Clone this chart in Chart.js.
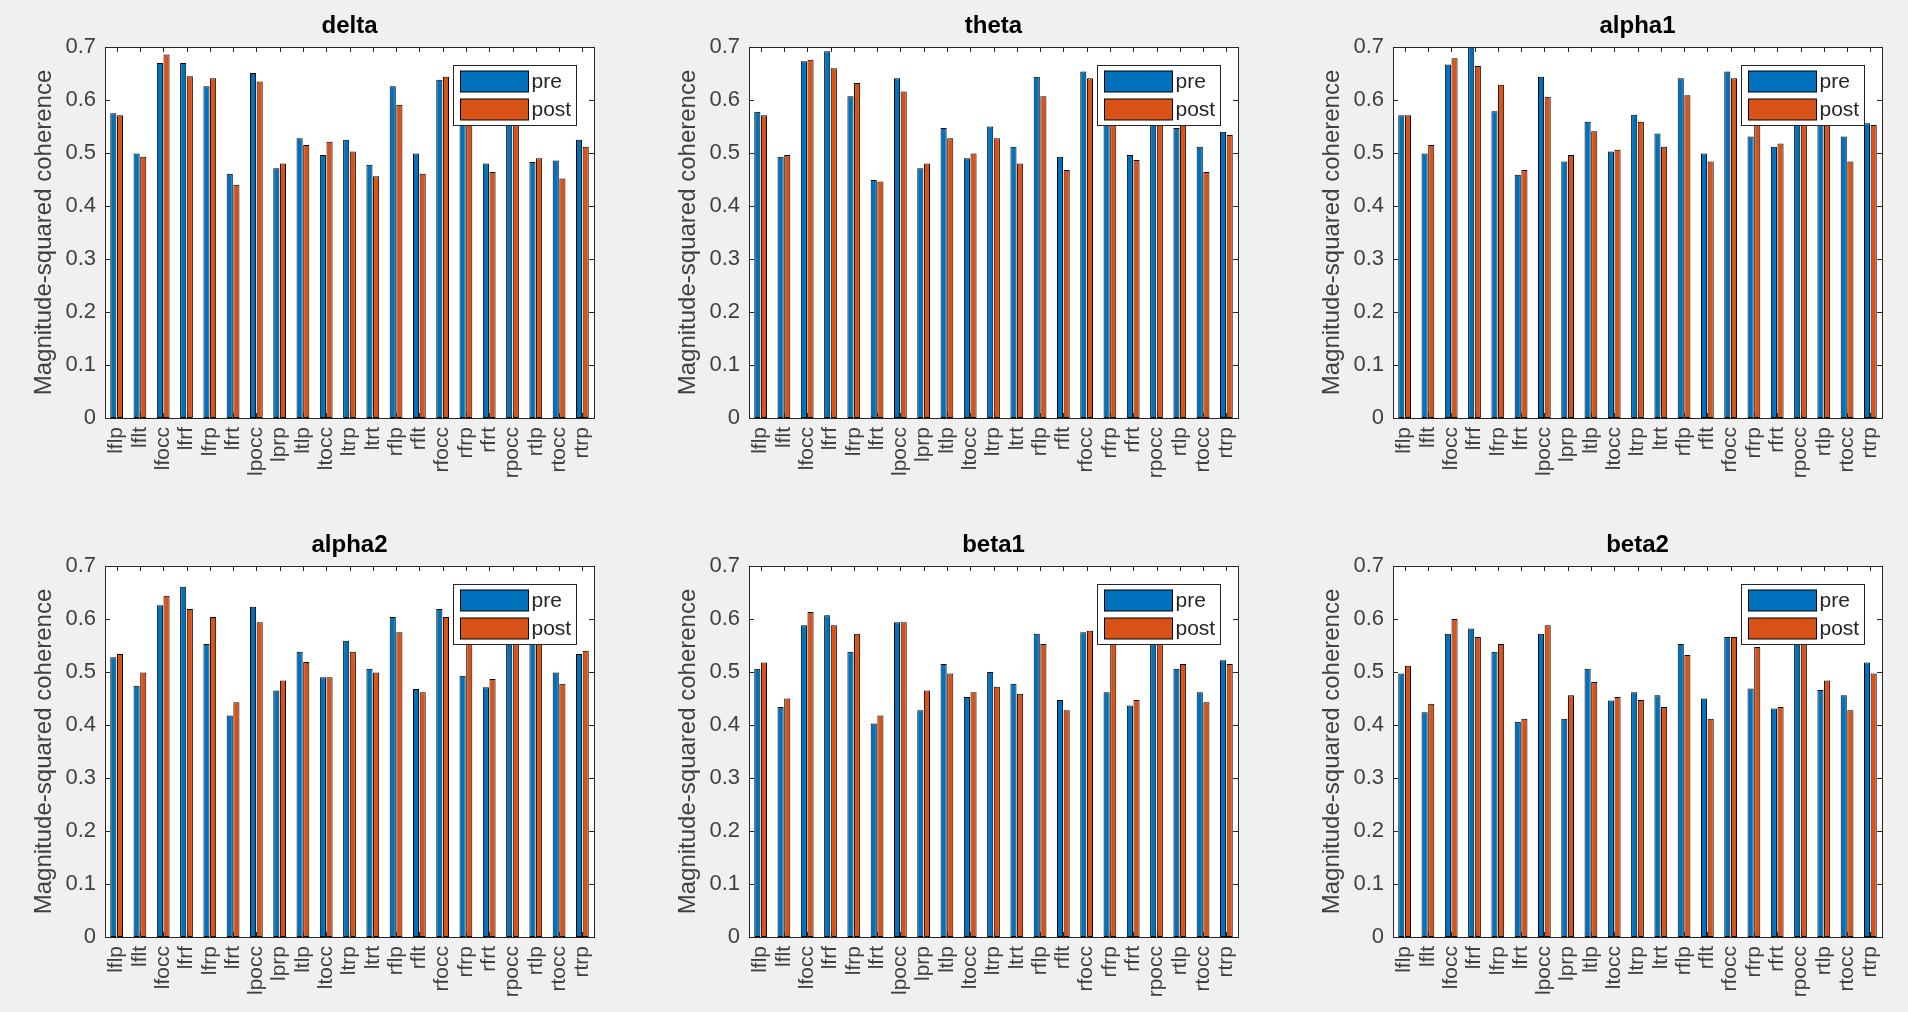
<!DOCTYPE html>
<html>
<head>
<meta charset="utf-8">
<title>coherence pre/post</title>
<script src="https://cdn.jsdelivr.net/npm/chart.js@4.4.1/dist/chart.umd.min.js"></script>
<style>
  html, body { margin: 0; padding: 0; background: #f0f0f0; }
  body { width: 1908px; height: 1012px; position: relative; overflow: hidden; }
  canvas { position: absolute; }
</style>
</head>
<body>
<canvas id="delta" width="612" height="493" style="left:0px;top:0px"></canvas>
<canvas id="theta" width="612" height="493" style="left:644px;top:0px"></canvas>
<canvas id="alpha1" width="612" height="493" style="left:1288px;top:0px"></canvas>
<canvas id="alpha2" width="612" height="493" style="left:0px;top:519px"></canvas>
<canvas id="beta1" width="612" height="493" style="left:644px;top:519px"></canvas>
<canvas id="beta2" width="612" height="493" style="left:1288px;top:519px"></canvas>
<script>
// channel pairs on the x axis
const channels = ['lflp', 'lflt', 'lfocc', 'lfrf', 'lfrp', 'lfrt', 'lpocc', 'lprp', 'ltlp', 'ltocc',
  'ltrp', 'ltrt', 'rflp', 'rflt', 'rfocc', 'rfrp', 'rfrt', 'rpocc', 'rtlp', 'rtocc', 'rtrp'];

const seriesNames = ['pre', 'post'];
const bands = ['delta', 'theta', 'alpha1', 'alpha2', 'beta1', 'beta2'];

// y axis range / tick step
const yMin = 0;
const yMax = 0.7;
const yStep = 0.1;
const yLabel = 'Magnitude-squared coherence';

// values (bars hidden behind the legend are estimates)
const deltaPre   = [0.575, 0.499, 0.670, 0.670, 0.626, 0.461, 0.651, 0.471, 0.528, 0.496, 0.525, 0.478, 0.626, 0.499, 0.638, 0.600, 0.480, 0.630, 0.483, 0.486, 0.525];
const deltaPost  = [0.571, 0.493, 0.686, 0.645, 0.641, 0.440, 0.635, 0.480, 0.515, 0.521, 0.503, 0.456, 0.591, 0.461, 0.644, 0.590, 0.464, 0.620, 0.490, 0.452, 0.512];

const thetaPre   = [0.578, 0.493, 0.673, 0.692, 0.607, 0.449, 0.641, 0.471, 0.547, 0.490, 0.550, 0.512, 0.644, 0.493, 0.654, 0.610, 0.496, 0.630, 0.547, 0.512, 0.540];
const thetaPost  = [0.571, 0.496, 0.676, 0.660, 0.632, 0.446, 0.616, 0.480, 0.528, 0.499, 0.528, 0.480, 0.607, 0.468, 0.641, 0.590, 0.487, 0.620, 0.570, 0.464, 0.534];

const alpha1Pre  = [0.571, 0.499, 0.667, 0.703, 0.579, 0.459, 0.644, 0.484, 0.559, 0.503, 0.572, 0.537, 0.641, 0.499, 0.654, 0.531, 0.512, 0.620, 0.570, 0.531, 0.556];
const alpha1Post = [0.571, 0.515, 0.679, 0.664, 0.629, 0.468, 0.606, 0.496, 0.541, 0.506, 0.559, 0.512, 0.609, 0.484, 0.641, 0.580, 0.518, 0.600, 0.565, 0.484, 0.553];

const alpha2Pre  = [0.528, 0.474, 0.626, 0.661, 0.553, 0.418, 0.623, 0.465, 0.538, 0.490, 0.559, 0.506, 0.604, 0.468, 0.619, 0.493, 0.471, 0.600, 0.580, 0.499, 0.534];
const alpha2Post = [0.534, 0.499, 0.644, 0.619, 0.604, 0.443, 0.594, 0.484, 0.519, 0.490, 0.538, 0.499, 0.575, 0.462, 0.604, 0.570, 0.487, 0.590, 0.570, 0.478, 0.540];

const beta1Pre   = [0.506, 0.434, 0.588, 0.607, 0.538, 0.403, 0.594, 0.428, 0.515, 0.453, 0.500, 0.478, 0.572, 0.447, 0.575, 0.462, 0.437, 0.600, 0.506, 0.462, 0.522];
const beta1Post  = [0.518, 0.450, 0.613, 0.588, 0.572, 0.418, 0.594, 0.465, 0.497, 0.462, 0.472, 0.459, 0.553, 0.428, 0.578, 0.580, 0.447, 0.590, 0.515, 0.443, 0.515];

const beta2Pre   = [0.497, 0.424, 0.572, 0.582, 0.538, 0.406, 0.572, 0.412, 0.506, 0.446, 0.462, 0.456, 0.553, 0.450, 0.566, 0.469, 0.431, 0.580, 0.466, 0.456, 0.518];
const beta2Post  = [0.512, 0.440, 0.600, 0.566, 0.553, 0.412, 0.588, 0.456, 0.481, 0.453, 0.447, 0.434, 0.532, 0.412, 0.566, 0.547, 0.434, 0.570, 0.484, 0.428, 0.497];

const bandData = {
  delta: [deltaPre, deltaPost],
  theta: [thetaPre, thetaPost],
  alpha1: [alpha1Pre, alpha1Post],
  alpha2: [alpha2Pre, alpha2Post],
  beta1: [beta1Pre, beta1Post],
  beta2: [beta2Pre, beta2Post]
};

// matlab default colours
const barColors = ['#0072BD', '#D95319'];
const axisColor = '#262626';
const tickTextColor = '#404040';
const fontFamily = '"Liberation Sans", Arial, Helvetica, sans-serif';

// draws the matlab look: white axes, box, inward ticks, title and the boxed legend
const matlabAxes = {
  id: 'matlabAxes',
  beforeDraw(chart) {
    const { ctx, chartArea: a } = chart;
    ctx.save();
    ctx.fillStyle = '#ffffff';
    ctx.fillRect(a.left, a.top, a.right - a.left, a.bottom - a.top);
    ctx.restore();
  },
  afterDatasetsDraw(chart, args, opts) {
    const { ctx, chartArea: a, scales } = chart;
    ctx.save();
    ctx.strokeStyle = axisColor;
    ctx.lineWidth = 1;

    // inward tick marks
    ctx.beginPath();
    scales.y.ticks.forEach(t => {
      const y = Math.round(scales.y.getPixelForValue(t.value)) + 0.5;
      ctx.moveTo(a.left, y); ctx.lineTo(a.left + 5, y);
      ctx.moveTo(a.right, y); ctx.lineTo(a.right - 5, y);
    });
    channels.forEach((c, i) => {
      const x = Math.round(scales.x.getPixelForValue(i)) + 0.5;
      ctx.moveTo(x, a.top); ctx.lineTo(x, a.top + 5);
      ctx.moveTo(x, a.bottom); ctx.lineTo(x, a.bottom - 5);
    });
    ctx.stroke();

    // box
    ctx.strokeRect(Math.round(a.left) + 0.5, Math.round(a.top) + 0.5,
      Math.round(a.right - a.left), Math.round(a.bottom - a.top));

    // legend
    const lw = 123, lh = 60;
    const lx = Math.round(a.right - 18 - lw) + 0.5;
    const ly = Math.round(a.top + 18) + 0.5;
    ctx.fillStyle = '#ffffff';
    ctx.fillRect(lx, ly, lw, lh);
    ctx.strokeRect(lx, ly, lw, lh);
    ctx.font = '21px ' + fontFamily;
    ctx.textBaseline = 'middle';
    ctx.textAlign = 'left';
    seriesNames.forEach((name, i) => {
      const sy = ly + 5.5 + i * 28;
      ctx.fillStyle = barColors[i];
      ctx.fillRect(lx + 7, sy, 68, 21);
      ctx.strokeStyle = '#000000';
      ctx.strokeRect(lx + 7, sy, 68, 21);
      ctx.fillStyle = axisColor;
      ctx.fillText(name, lx + 78, sy + 11);
    });

    // title, centred on the axes
    ctx.fillStyle = '#000000';
    ctx.font = 'bold 24px ' + fontFamily;
    ctx.textAlign = 'center';
    ctx.fillText(opts.title, (a.left + a.right) / 2, 26);
    ctx.restore();
  }
};

function makeChart(band) {
  const ctx = document.getElementById(band).getContext('2d');
  const values = bandData[band];
  return new Chart(ctx, {
    type: 'bar',
    data: {
      labels: channels,
      datasets: seriesNames.map((name, i) => ({
        label: name,
        data: values[i],
        backgroundColor: barColors[i],
        borderColor: '#000000',
        borderWidth: 1,
        borderSkipped: false,
        categoryPercentage: 0.571,
        barPercentage: 0.92
      }))
    },
    options: {
      responsive: false,
      animation: false,
      events: [],
      layout: { padding: { top: 47, right: 18, left: 0, bottom: 0 } },
      scales: {
        x: {
          grid: { display: false, drawTicks: false },
          border: { display: false },
          ticks: {
            autoSkip: false,
            maxRotation: 90,
            minRotation: 90,
            padding: 9,
            color: tickTextColor,
            font: { family: fontFamily, size: 21 }
          },
          afterFit(scale) {
            scale.height = 75;
            scale.paddingLeft = 0;
            scale.paddingRight = 0;
          }
        },
        y: {
          min: yMin,
          max: yMax,
          grid: { display: false, drawTicks: false },
          border: { display: false },
          ticks: {
            stepSize: yStep,
            padding: 9,
            color: tickTextColor,
            font: { family: fontFamily, size: 22 }
          },
          title: {
            display: true,
            text: yLabel,
            color: tickTextColor,
            padding: { top: 30, bottom: 0 },
            font: { family: fontFamily, size: 24 }
          },
          afterFit(scale) { scale.width = 105; }
        }
      },
      plugins: {
        legend: { display: false },
        tooltip: { enabled: false },
        matlabAxes: { title: band }
      }
    },
    plugins: [matlabAxes]
  });
}

bands.forEach(b => makeChart(b));
</script>
</body>
</html>
